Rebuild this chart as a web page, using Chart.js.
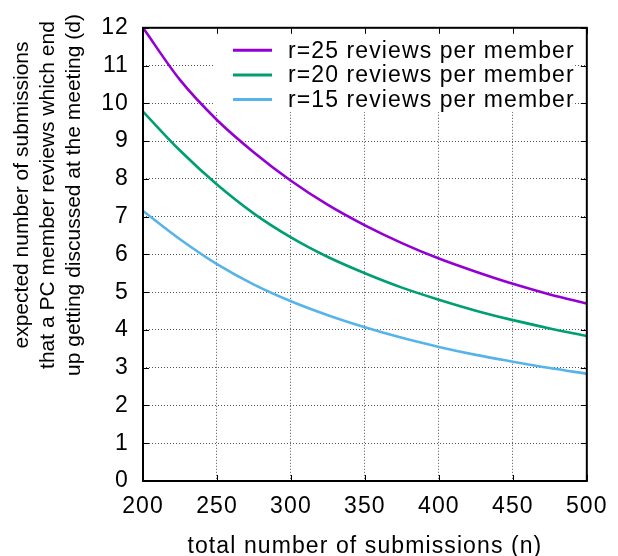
<!DOCTYPE html>
<html>
<head>
<meta charset="utf-8">
<script src="https://cdn.jsdelivr.net/npm/chart.js@4/dist/chart.umd.min.js"></script>
<style>
  html, body { margin: 0; padding: 0; background: #fff; }
  #wrap { width: 618px; height: 556px; }
</style>
</head>
<body>
<div id="wrap"><canvas id="chart" width="618" height="556"></canvas></div>
<script>
// Total number of submissions (n)
const submissions = [200, 225, 250, 275, 300, 325, 350, 375, 400, 425, 450, 475, 500];
// Expected number of discussed submissions per PC member (d)
const reviews25 = [12.0, 10.62, 9.56, 8.70, 7.95, 7.31, 6.77, 6.30, 5.89, 5.54, 5.22, 4.94, 4.70];
const reviews20 = [9.78, 8.75, 7.85, 7.08, 6.45, 5.93, 5.50, 5.12, 4.80, 4.51, 4.26, 4.04, 3.84];
const reviews15 = [7.15, 6.40, 5.74, 5.20, 4.76, 4.39, 4.07, 3.79, 3.55, 3.34, 3.16, 2.99, 2.84];

const seriesLabels = ['r=25 reviews per member', 'r=20 reviews per member', 'r=15 reviews per member'];
const seriesColors = ['#9400d3', '#009e73', '#56b4e9'];

const xTicks = [200, 250, 300, 350, 400, 450, 500];
const yTicks = [0, 1, 2, 3, 4, 5, 6, 7, 8, 9, 10, 11, 12];

const xTitle = 'total number of submissions (n)';
const yTitleLines = [
  'expected number of submissions',
  'that a PC member reviews which end',
  'up getting discussed at the meeting (d)'
];

const FONT = '"Liberation Sans", Arial, Helvetica, sans-serif';
const TEXT_SIZE = 23;
const SPACING = '1.1px';

function points(values) {
  return submissions.map((n, i) => ({ x: n, y: values[i] }));
}

function series(i, values) {
  return {
    label: seriesLabels[i],
    data: points(values),
    borderColor: seriesColors[i],
    backgroundColor: seriesColors[i],
    borderWidth: 2.6,
    pointRadius: 0,
    fill: false,
    cubicInterpolationMode: 'monotone'
  };
}

// Slightly looser horizontal text, as in the gnuplot cairo output
const spacingPlugin = {
  id: 'spacing',
  beforeDraw(chart) { chart.ctx.letterSpacing = SPACING; }
};

// Frame with inward tick marks on all four sides
const framePlugin = {
  id: 'frame',
  afterDraw(chart) {
    const { ctx, chartArea: a, scales } = chart;
    const len = 6;
    ctx.save();
    ctx.strokeStyle = '#000';
    ctx.lineWidth = 1;
    ctx.beginPath();
    scales.x.ticks.forEach(t => {
      const px = Math.round(scales.x.getPixelForValue(t.value)) + 0.5;
      ctx.moveTo(px, a.bottom); ctx.lineTo(px, a.bottom - len);
      ctx.moveTo(px, a.top); ctx.lineTo(px, a.top + len);
    });
    scales.y.ticks.forEach(t => {
      const py = Math.round(scales.y.getPixelForValue(t.value)) + 0.5;
      ctx.moveTo(a.left, py); ctx.lineTo(a.left + len, py);
      ctx.moveTo(a.right, py); ctx.lineTo(a.right - len, py);
    });
    ctx.stroke();
    ctx.lineWidth = 2;
    ctx.strokeRect(a.left, a.top, a.right - a.left, a.bottom - a.top);
    ctx.restore();
  }
};

// Opaque key in the upper right of the plot
const keyPlugin = {
  id: 'key',
  afterDatasetsDraw(chart) {
    const { ctx, chartArea: a } = chart;
    const boxLeft = a.left + 72, boxRight = a.right - 14, boxBottom = a.top + 84;
    ctx.save();
    ctx.fillStyle = '#fff';
    ctx.fillRect(boxLeft, a.top, boxRight - boxLeft, boxBottom - a.top);
    ctx.font = TEXT_SIZE + 'px ' + FONT;
    ctx.letterSpacing = SPACING;
    ctx.textBaseline = 'middle';
    ctx.textAlign = 'left';
    chart.data.datasets.forEach((ds, i) => {
      const y = a.top + 22.5 + i * 24.6;
      ctx.strokeStyle = ds.borderColor;
      ctx.lineWidth = 3;
      ctx.beginPath();
      ctx.moveTo(a.left + 90, y);
      ctx.lineTo(a.left + 129, y);
      ctx.stroke();
      ctx.fillStyle = '#000';
      ctx.fillText(ds.label, a.left + 145, y + 1);
    });
    ctx.restore();
  }
};

// Three-line rotated label for the vertical axis
const yTitlePlugin = {
  id: 'yTitle',
  afterDraw(chart) {
    const { ctx } = chart;
    ctx.save();
    ctx.letterSpacing = '0px';
    ctx.font = '21px ' + FONT;
    ctx.fillStyle = '#000';
    ctx.textAlign = 'center';
    ctx.textBaseline = 'alphabetic';
    ctx.translate(0, 195);
    ctx.rotate(-Math.PI / 2);
    yTitleLines.forEach((line, i) => ctx.fillText(line, 0, 28 + i * 26));
    ctx.restore();
  }
};

new Chart(document.getElementById('chart'), {
  type: 'line',
  data: {
    datasets: [series(0, reviews25), series(1, reviews20), series(2, reviews15)]
  },
  options: {
    responsive: false,
    devicePixelRatio: 1,
    animation: false,
    layout: { padding: { left: 0, right: 27, top: 19, bottom: 0 } },
    plugins: {
      legend: { display: false },
      tooltip: { enabled: false }
    },
    scales: {
      x: {
        type: 'linear',
        min: 200,
        max: 500,
        afterBuildTicks: s => { s.ticks = xTicks.map(v => ({ value: v })); },
        afterFit: s => { s.height = 75; },
        grid: { color: '#555', lineWidth: 1, drawTicks: false },
        border: { display: false, dash: [1, 2] },
        ticks: { color: '#000', font: { family: FONT, size: TEXT_SIZE }, padding: 12, maxRotation: 0 },
        title: { display: true, text: xTitle, color: '#000', font: { family: FONT, size: TEXT_SIZE }, padding: { top: 0, bottom: -4 } }
      },
      y: {
        min: 0,
        max: 12,
        afterBuildTicks: s => { s.ticks = yTicks.map(v => ({ value: v })); },
        afterFit: s => { s.width = 143; },
        grid: { color: '#555', lineWidth: 1, drawTicks: false },
        border: { display: false, dash: [1, 2] },
        ticks: { color: '#000', font: { family: FONT, size: TEXT_SIZE }, padding: 14 }
      }
    }
  },
  plugins: [spacingPlugin, keyPlugin, framePlugin, yTitlePlugin]
});
</script>
</body>
</html>
